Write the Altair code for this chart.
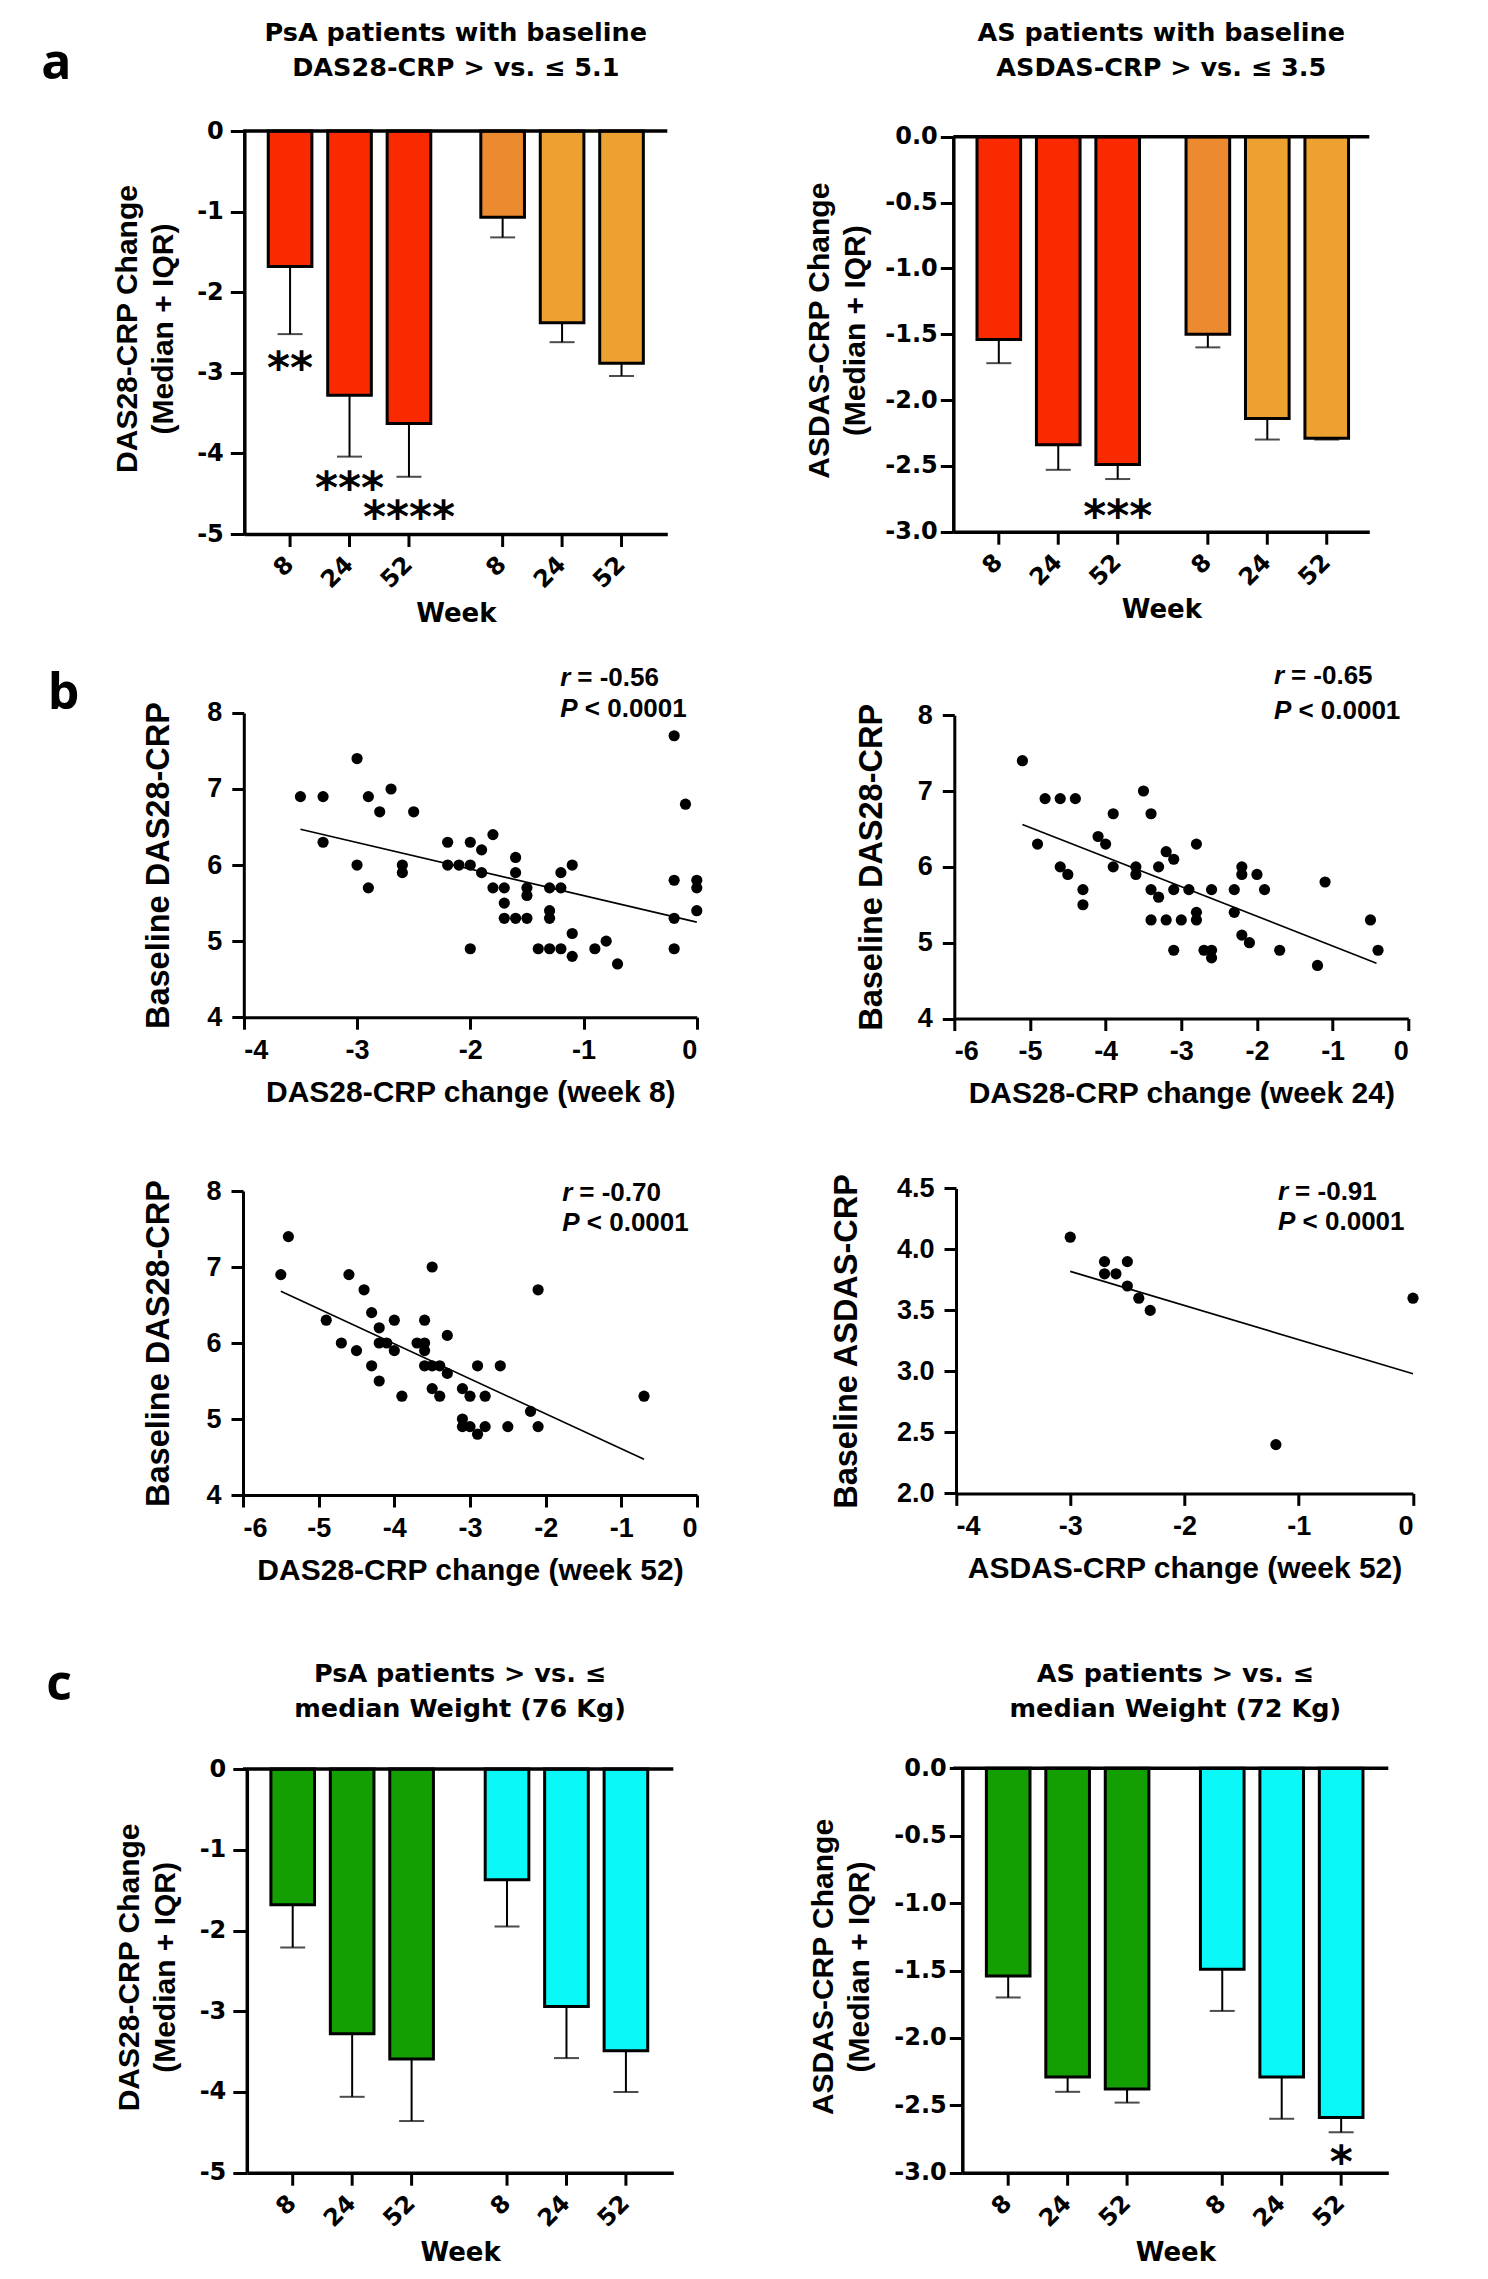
import altair as alt
import pandas as pd

DV = "DejaVu Sans"
LS = "Liberation Sans"
LETTER_FONT = "Open Sans"

# ------------------------------------------------------------------ data
weeks = ["8", "24", "52"]
groups = ["G1", "G2"]

# a (left): PsA, baseline DAS28-CRP > 5.1 (red) vs <= 5.1 (orange)
a1_median = [-1.68, -3.28, -3.63, -1.07, -2.38, -2.88]
a1_iqr = [-2.52, -4.04, -4.29, -1.32, -2.62, -3.04]
a1_colors = ["#F92A00", "#F92A00", "#F92A00", "#EC8A30", "#EDA131", "#EDA131"]
a1_stars = ["**", "***", "****", "", "", ""]
a1_star_y = [-2.80, -4.29, -4.65, 0, 0, 0]

# a (right): AS, baseline ASDAS-CRP > 3.5 vs <= 3.5
a2_median = [-1.54, -2.34, -2.49, -1.50, -2.14, -2.29]
a2_iqr = [-1.72, -2.53, -2.60, -1.60, -2.30, -2.30]
a2_colors = a1_colors
a2_stars = ["", "", "***", "", "", ""]
a2_star_y = [0, 0, -2.80, 0, 0, 0]

# c (left): PsA, weight > vs <= 76 kg
c1_median = [-1.68, -3.28, -3.59, -1.37, -2.94, -3.49]
c1_iqr = [-2.21, -4.06, -4.36, -1.95, -3.58, -4.00]
c1_colors = ["#139E02", "#139E02", "#139E02", "#0BF8F8", "#0BF8F8", "#0BF8F8"]
c1_stars = ["", "", "", "", "", ""]
c1_star_y = [0, 0, 0, 0, 0, 0]

# c (right): AS, weight > vs <= 72 kg
c2_median = [-1.54, -2.29, -2.38, -1.49, -2.29, -2.59]
c2_iqr = [-1.70, -2.40, -2.48, -1.80, -2.60, -2.70]
c2_colors = c1_colors
c2_stars = ["", "", "", "", "", "*"]
c2_star_y = [0, 0, 0, 0, 0, -2.84]

# b: scatter plots
s1_x = [-3.5, -3.3, -3.3, -3.0, -3.0, -2.9, -2.9, -2.7, -2.8, -2.5, -2.6, -2.6, -2.2, -2.2,
        -2.1, -2.0, -2.0, -2.0, -1.9, -1.9, -1.8, -1.8, -1.7, -1.7, -1.7, -1.6, -1.6, -1.6,
        -1.5, -1.5, -1.5, -1.4, -1.3, -1.3, -1.3, -1.3, -1.2, -1.2, -1.2, -1.1, -1.1, -1.1,
        -0.9, -0.8, -0.7, -0.2, -0.2, -0.2, -0.2, -0.1, 0.0, 0.0, 0.0]
s1_y = [6.9, 6.9, 6.3, 7.4, 6.0, 6.9, 5.7, 7.0, 6.7, 6.7, 6.0, 5.9, 6.3, 6.0,
        6.0, 6.3, 6.0, 4.9, 6.2, 5.9, 6.4, 5.7, 5.7, 5.5, 5.3, 6.1, 5.9, 5.3,
        5.7, 5.6, 5.3, 4.9, 5.7, 5.4, 5.3, 4.9, 5.9, 5.7, 4.9, 6.0, 5.1, 4.8,
        4.9, 5.0, 4.7, 7.7, 5.8, 5.3, 4.9, 6.8, 5.8, 5.7, 5.4]
s1_fit_x = [-3.5, 0.0]
s1_fit_y = [6.47, 5.25]

s2_x = [-5.1, -4.9, -4.8, -4.6, -4.4, -4.6, -4.5, -4.3, -4.3, -4.1, -4.0, -3.9, -3.9, -3.6,
        -3.6, -3.5, -3.4, -3.4, -3.4, -3.3, -3.3, -3.2, -3.2, -3.1, -3.1, -3.1, -3.0, -2.9,
        -2.8, -2.8, -2.8, -2.7, -2.6, -2.6, -2.6, -2.3, -2.3, -2.2, -2.2, -2.2, -2.1, -2.0,
        -1.9, -1.7, -1.2, -1.1, -0.5, -0.4]
s2_y = [7.4, 6.3, 6.9, 6.9, 6.9, 6.0, 5.9, 5.7, 5.5, 6.4, 6.3, 6.7, 6.0, 6.0,
        5.9, 7.0, 6.7, 5.7, 5.3, 6.0, 5.6, 6.2, 5.3, 6.1, 5.7, 4.9, 5.3, 5.7,
        6.3, 5.4, 5.3, 4.9, 5.7, 4.9, 4.8, 5.7, 5.4, 6.0, 5.9, 5.1, 5.0, 5.9,
        5.7, 4.9, 4.7, 5.8, 5.3, 4.9]
s2_fit_x = [-5.1, -0.42]
s2_fit_y = [6.56, 4.73]

s3_x = [-5.5, -5.4, -4.9, -4.7, -4.6, -4.5, -4.4, -4.3, -4.3, -4.2, -4.2, -4.2, -4.1, -4.0,
        -4.0, -3.9, -3.7, -3.6, -3.6, -3.6, -3.6, -3.5, -3.5, -3.5, -3.4, -3.4, -3.3, -3.3,
        -3.1, -3.1, -3.1, -3.0, -3.0, -2.9, -2.9, -2.8, -2.8, -2.6, -2.5, -2.2, -2.1, -2.1, -0.7]
s3_y = [6.9, 7.4, 6.3, 6.0, 6.9, 5.9, 6.7, 6.4, 5.7, 6.2, 6.0, 5.5, 6.0, 6.3,
        5.9, 5.3, 6.0, 6.3, 6.0, 5.9, 5.7, 7.0, 5.7, 5.4, 5.7, 5.3, 6.1, 5.6,
        5.4, 5.0, 4.9, 5.3, 4.9, 5.7, 4.8, 5.3, 4.9, 5.7, 4.9, 5.1, 6.7, 4.9, 5.3]
s3_fit_x = [-5.5, -0.7]
s3_fit_y = [6.68, 4.47]

s4_x = [-3.0, -2.7, -2.7, -2.6, -2.5, -2.5, -2.4, -2.3, -1.2, 0.0]
s4_y = [4.1, 3.9, 3.8, 3.8, 3.9, 3.7, 3.6, 3.5, 2.4, 3.6]
s4_fit_x = [-3.0, 0.0]
s4_fit_y = [3.82, 2.98]


def neg_label(fmt):
    return "(datum.value < 0 ? '-' : '') + format(abs(datum.value), '" + fmt + "')"


def text_layer(txt, x, y, font, size, align="center", baseline="alphabetic",
               style="normal"):
    return alt.Chart(pd.DataFrame({"t": [txt]})).mark_text(
        font=font, fontSize=size, fontWeight="bold", fontStyle=style, color="black",
        align=align, baseline=baseline
    ).encode(text="t:N", x=alt.value(x), y=alt.value(y))


# ------------------------------------------------------------------ bar panels
def bar_panel(median, iqr, colors, stars, star_y, ydom, yvals, yfmt, dx, dy, w, h, ytitle,
              titles, title_ys, tick_size, label_pad, ytitle_x, week_y, letter=None):
    df = pd.DataFrame({
        "group": [g for g in groups for _ in weeks],
        "week": weeks * 2,
        "median": median,
        "iqr": iqr,
        "color": colors,
        "star": stars,
        "star_y": star_y,
    })
    yscale = alt.Scale(domain=ydom, range=[dy + h, dy], nice=False, zero=False)
    yaxis = alt.Axis(values=yvals, labelExpr=neg_label(yfmt), grid=False, offset=-dx,
                     domainColor="black", domainWidth=3.5, tickColor="black", tickWidth=3,
                     tickSize=tick_size, labelFont=DV, labelFontSize=24, labelFontWeight="bold",
                     labelColor="black", labelPadding=label_pad,
                     title=ytitle, titleFont=LS, titleFontSize=30, titleFontWeight="bold",
                     titleColor="black", titleAngle=270, titleX=ytitle_x,
                     titleY=dy + h / 2 - 4, titleAlign="center", titleBaseline="middle",
                     titleLineHeight=36)
    xaxis = alt.Axis(labels=False, ticks=False, grid=False, domainColor="black",
                     domainWidth=3.5, title="Week", titleFont=DV, titleFontSize=26,
                     titleFontWeight="bold", titleColor="black", titleX=dx + w / 2,
                     titleY=week_y, titleAlign="center", titleBaseline="middle")
    x = alt.X("group:N", sort=groups,
              scale=alt.Scale(range=[dx, dx + w], paddingInner=0.161, paddingOuter=0.0755),
              axis=xaxis)
    xo = alt.XOffset("week:N", sort=weeks,
                     scale=alt.Scale(paddingInner=0.266, paddingOuter=0.133))
    base = alt.Chart(df).encode(x=x, xOffset=xo)

    bars = base.mark_bar(stroke="black", strokeWidth=3).encode(
        y=alt.Y("median:Q", scale=yscale, axis=yaxis),
        color=alt.Color("color:N", scale=None))
    err = base.mark_rule(color="black", strokeWidth=2).encode(
        y=alt.Y("median:Q", scale=yscale, axis=yaxis), y2="iqr:Q")
    cap = base.mark_tick(color="black", thickness=2, size=25, orient="horizontal").encode(
        y=alt.Y("iqr:Q", scale=yscale, axis=yaxis))
    zero = alt.Chart(pd.DataFrame({"zero": [0.0]})).mark_rule(
        color="black", strokeWidth=3.5).encode(y=alt.Y("zero:Q", scale=yscale, axis=yaxis))
    xticks = base.mark_rule(color="black", strokeWidth=3).encode(
        y=alt.value(dy + h), y2=alt.value(dy + h + 13))
    xlabels = base.mark_text(angle=315, align="right", baseline="middle", font=DV,
                             fontSize=24, fontWeight="bold", color="black").encode(
        text="week:N", y=alt.value(dy + h + 27))
    star = base.transform_filter("datum.star != ''").mark_text(
        font=DV, fontSize=44, fontWeight="bold", color="black", baseline="alphabetic",
        dy=26).encode(text="star:N", y=alt.Y("star_y:Q", scale=yscale, axis=yaxis))
    layers = [bars, err, cap, zero, xticks, xlabels, star]
    for t, ty in zip(titles, title_ys):
        layers.append(text_layer(t, dx + w / 2, ty, DV, 25.5))
    if letter is not None:
        layers.append(text_layer(letter[0], letter[1], letter[2], LETTER_FONT, 50, align="left"))
    return alt.layer(*layers).properties(width=dx + w, height=dy + h)


# ------------------------------------------------------------------ scatter panels
def scatter_panel(xs, ys, fx, fy, xdom, xvals, ydom, yvals, yfmt, dx, dy, w, h, xtitle,
                  ytitle, r_val, ann_x, ann_y1, ann_y2, ytitle_x, letter=None):
    df = pd.DataFrame({"x": xs, "y": ys})
    fit = pd.DataFrame({"x": fx, "y": fy})
    xaxis = alt.Axis(values=xvals, labelExpr=neg_label("d"), grid=False,
                     domainColor="black", domainWidth=3, tickColor="black", tickWidth=3,
                     tickSize=12, labelFont=LS, labelFontSize=27, labelFontWeight="bold",
                     labelColor="black", labelPadding=8,
                     title=xtitle, titleFont=LS, titleFontSize=30, titleFontWeight="bold",
                     titleColor="black", titleX=dx + w / 2, titleY=75, titleAlign="center",
                     titleBaseline="middle")
    yaxis = alt.Axis(values=yvals, labelExpr=neg_label(yfmt), grid=False, offset=-dx,
                     domainColor="black", domainWidth=3, tickColor="black", tickWidth=3,
                     tickSize=12, labelFont=LS, labelFontSize=27, labelFontWeight="bold",
                     labelColor="black", labelPadding=10,
                     title=ytitle, titleFont=LS, titleFontSize=32.5, titleFontWeight="bold",
                     titleColor="black", titleAngle=270, titleX=ytitle_x, titleY=dy + h / 2,
                     titleAlign="center", titleBaseline="middle")
    xs_ = alt.Scale(domain=xdom, range=[dx, dx + w], nice=False, zero=False)
    ys_ = alt.Scale(domain=ydom, range=[dy + h, dy], nice=False, zero=False)
    pts = alt.Chart(df).mark_circle(size=125, color="black", opacity=1).encode(
        x=alt.X("x:Q", scale=xs_, axis=xaxis), y=alt.Y("y:Q", scale=ys_, axis=yaxis))
    line = alt.Chart(fit).mark_line(color="black", strokeWidth=1.6).encode(
        x=alt.X("x:Q", scale=xs_, axis=xaxis), y=alt.Y("y:Q", scale=ys_, axis=yaxis))
    layers = [line, pts,
              text_layer("r", ann_x, ann_y1, LS, 26, align="left", baseline="middle",
                         style="italic"),
              text_layer("= " + r_val, ann_x + 17, ann_y1, LS, 26, align="left",
                         baseline="middle"),
              text_layer("P", ann_x, ann_y2, LS, 26, align="left", baseline="middle",
                         style="italic"),
              text_layer("< 0.0001", ann_x + 24.5, ann_y2, LS, 26, align="left",
                         baseline="middle")]
    if letter is not None:
        layers.append(text_layer(letter[0], letter[1], letter[2], LETTER_FONT, 50, align="left"))
    return alt.layer(*layers).properties(width=dx + w, height=dy + h)


# ------------------------------------------------------------------ panels
# column starts: 241.7 / 952 ; row tops: 129.8 / 532.8 / 1017.3 / 1493.3 (page pixels)
a_left = bar_panel(a1_median, a1_iqr, a1_colors, a1_stars, a1_star_y, [-5, 0],
                   [-5, -4, -3, -2, -1, 0], "d", 1.3, 0, 423, 403,
                   ["DAS28-CRP Change", "(Median + IQR)"],
                   ["PsA patients with baseline", "DAS28-CRP > vs. ≤ 5.1"], [-89.7, -55.4],
                   14, 7, -117, 79, letter=("a", -201.7, -52.3))
a_right = bar_panel(a2_median, a2_iqr, a2_colors, a2_stars, a2_star_y, [-3, 0],
                    [-3, -2.5, -2, -1.5, -1, -0.5, 0], ".1f", 0, 5.7, 416, 395,
                    ["ASDAS-CRP Change", "(Median + IQR)"],
                    ["AS patients with baseline", "ASDAS-CRP > vs. ≤ 3.5"], [-89.7, -55.4],
                    13, 3, -134, 78)

s1 = scatter_panel(s1_x, s1_y, s1_fit_x, s1_fit_y, [-4, 0], [-4, -3, -2, -1, 0],
                   [4, 8], [4, 5, 6, 7, 8], "d", 0.8, 178.9, 453, 304.3,
                   "DAS28-CRP change (week 8)", "Baseline DAS28-CRP", "-0.56",
                   317.3, 143.9, 175.2, -85.5, letter=("b", -195.2, 175.2))
s2 = scatter_panel(s2_x, s2_y, s2_fit_x, s2_fit_y, [-6, 0], [-6, -5, -4, -3, -2, -1, 0],
                   [4, 8], [4, 5, 6, 7, 8], "d", 1, 181.2, 454, 303.3,
                   "DAS28-CRP change (week 24)", "Baseline DAS28-CRP", "-0.65",
                   320.6, 142.2, 177.2, -82.5)
s3 = scatter_panel(s3_x, s3_y, s3_fit_x, s3_fit_y, [-6, 0], [-6, -5, -4, -3, -2, -1, 0],
                   [4, 8], [4, 5, 6, 7, 8], "d", 0, 172, 454, 304,
                   "DAS28-CRP change (week 52)", "Baseline DAS28-CRP", "-0.70",
                   319.3, 174.4, 204.4, -84.7)
s4 = scatter_panel(s4_x, s4_y, s4_fit_x, s4_fit_y, [-4, 0], [-4, -3, -2, -1, 0],
                   [2, 4.5], [2, 2.5, 3, 3.5, 4, 4.5], ".1f", 2.7, 169.4, 457, 305,
                   "ASDAS-CRP change (week 52)", "Baseline ASDAS-CRP", "-0.91",
                   324.8, 172.7, 202.7, -109.7)

c_left = bar_panel(c1_median, c1_iqr, c1_colors, c1_stars, c1_star_y, [-5, 0],
                   [-5, -4, -3, -2, -1, 0], "d", 3.8, 274.1, 426.5, 403.6,
                   ["DAS28-CRP Change", "(Median + IQR)"],
                   ["PsA patients > vs. ≤", "median Weight (76 Kg)"], [186.5, 221.7],
                   14, 7, -117.5, 80, letter=("c", -196.7, 204.7))
c_right = bar_panel(c2_median, c2_iqr, c2_colors, c2_stars, c2_star_y, [-3, 0],
                    [-3, -2.5, -2, -1.5, -1, -0.5, 0], ".1f", 9, 273.3, 426, 404.4,
                    ["ASDAS-CRP Change", "(Median + IQR)"],
                    ["AS patients > vs. ≤", "median Weight (72 Kg)"], [186.5, 221.7],
                    13, 3, -138.5, 80)

chart = alt.concat(
    a_left, a_right, s1, s2, s3, s4, c_left, c_right,
    columns=2, spacing={"row": 0, "column": 256.3}, bounds="flush", align="each",
).properties(
    padding={"left": 32, "top": 12, "right": 10, "bottom": 10},
    background="white",
).configure_view(stroke="transparent")

chart.save("out.html", embed_options={"renderer": "svg", "actions": False})
